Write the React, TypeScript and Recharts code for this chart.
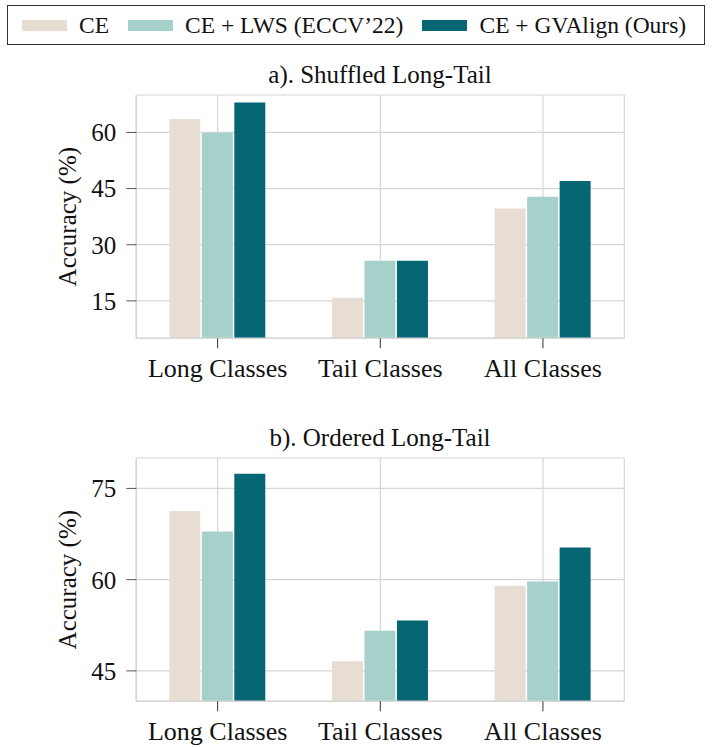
import { BarChart, Bar, XAxis, YAxis, CartesianGrid } from 'recharts'

const categories = ['Long Classes', 'Tail Classes', 'All Classes']

const ceShuffled = [63.6, 15.8, 39.7]
const lwsShuffled = [59.9, 25.7, 42.8]
const gvShuffled = [68.0, 25.7, 47.0]

const ceOrdered = [71.3, 46.6, 59.0]
const lwsOrdered = [67.9, 51.6, 59.7]
const gvOrdered = [77.4, 53.3, 65.3]

const shuffledTicks = [15, 30, 45, 60]
const orderedTicks = [45, 60, 75]

const seriesNames = ['CE', 'CE + LWS (ECCV\u201922)', 'CE + GVAlign (Ours)']
const colors = ['#e7ddd2', '#a5d1ca', '#076674']

const FONT = '"Liberation Serif", "Times New Roman", serif'
const GRID = '#d6d6d6'

const buildRows = (ce: number[], lws: number[], gv: number[]) =>
  categories.map((name, i) => ({ name, ce: ce[i], lws: lws[i], gv: gv[i] }))

function Panel({ title, top, rows, ticks, domain }: {
  title: string, top: number, rows: any[], ticks: number[], domain: [number, number]
}) {
  return (
    <div style={{ position: 'absolute', left: 0, top, width: 712, height: 350 }}>
      <div style={{
        position: 'absolute', left: 137, width: 486, top: 12, textAlign: 'center',
        fontFamily: FONT, fontSize: 25, lineHeight: '25px', color: '#111',
      }}>{title}</div>
      <BarChart width={712} height={350} data={rows} barSize={31} barGap={1.5}
        margin={{ top: 45, right: 87.7, left: 0, bottom: 0 }}>
        <CartesianGrid stroke={GRID} strokeWidth={1.2} />
        <XAxis dataKey="name" height={61.7} tickSize={10} tickMargin={10}
          axisLine={{ stroke: GRID, strokeWidth: 1.5 }} tickLine={{ stroke: '#333' }}
          tick={{ fill: '#111', fontSize: 26, fontFamily: FONT }} />
        <XAxis xAxisId="top" orientation="top" dataKey="name" height={0} tick={false} tickLine={false}
          axisLine={{ stroke: GRID, strokeWidth: 1.5 }} />
        <YAxis width={136.3} domain={domain} ticks={ticks} allowDataOverflow tickSize={10} tickMargin={10}
          axisLine={{ stroke: GRID, strokeWidth: 1.5 }} tickLine={{ stroke: '#555' }}
          tick={{ fill: '#111', fontSize: 25, fontFamily: FONT }}
          label={{ value: 'Accuracy (%)', angle: -90, position: 'center', dx: -1,
            style: { fill: '#111', fontSize: 25, fontFamily: FONT } }} />
        <YAxis yAxisId="right" orientation="right" width={0} domain={domain} tick={false} tickLine={false}
          axisLine={{ stroke: GRID, strokeWidth: 1.5 }} />
        <Bar dataKey="ce" name={seriesNames[0]} fill={colors[0]} isAnimationActive={false} />
        <Bar dataKey="lws" name={seriesNames[1]} fill={colors[1]} isAnimationActive={false} />
        <Bar dataKey="gv" name={seriesNames[2]} fill={colors[2]} isAnimationActive={false} />
      </BarChart>
    </div>
  )
}

export default function App() {
  return (
    <div style={{ position: 'absolute', left: 0, top: 0, width: 712, height: 747, background: '#fff' }}>
      <div style={{
        position: 'absolute', left: 7, top: 5, width: 698, height: 40, boxSizing: 'border-box',
        border: '1.5px solid #333', display: 'flex', alignItems: 'center', paddingLeft: 14,
        fontFamily: FONT, fontSize: 23.5, color: '#111', whiteSpace: 'nowrap',
      }}>
        {seriesNames.map((s, i) => (
          <div key={s} style={{ display: 'flex', alignItems: 'center', marginRight: 19, flexShrink: 0 }}>
            <div style={{ width: 45, height: 11, background: colors[i], marginRight: 12, flexShrink: 0 }} />
            <span>{s}</span>
          </div>
        ))}
      </div>
      <Panel title="a). Shuffled Long-Tail" top={50} rows={buildRows(ceShuffled, lwsShuffled, gvShuffled)}
        ticks={shuffledTicks} domain={[5, 70]} />
      <Panel title="b). Ordered Long-Tail" top={413.3} rows={buildRows(ceOrdered, lwsOrdered, gvOrdered)}
        ticks={orderedTicks} domain={[40, 80]} />
    </div>
  )
}
